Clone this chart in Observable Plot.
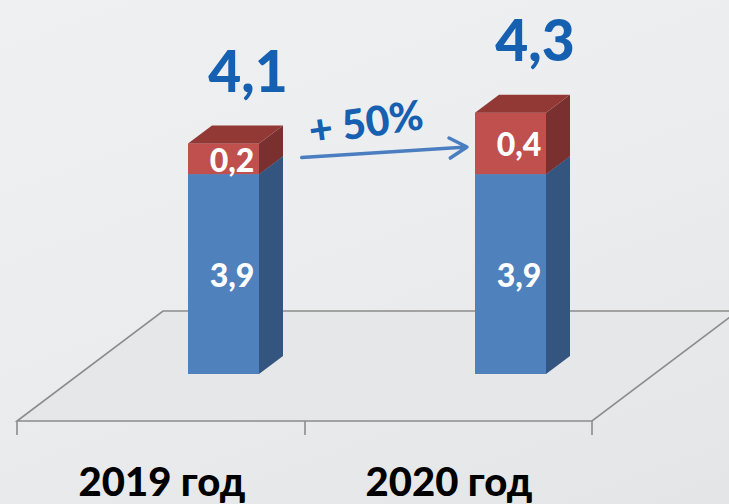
<!DOCTYPE html>
<html><head><meta charset="utf-8">
<script src="https://cdn.jsdelivr.net/npm/d3@7"></script>
<script src="https://cdn.jsdelivr.net/npm/@observablehq/plot@0.6"></script>
<style>
html,body{margin:0;padding:0;background:#ECEDEF;}
#chart svg{display:block;}
</style></head><body><div id="chart"></div>
<script>
// ---- data ----
const years = ["2019 год", "2020 год"];
const baseValues = [3.9, 3.9];     // blue segment
const addValues = [0.2, 0.4];      // red segment
const totals = [4.1, 4.3];
const growthLabel = "+ 50%";
const growthArrow = [{from: "2019 год", to: "2020 год", y1: 3.96, y2: 4.08, labelY: 4.23}];
const yDomain = [2.6, 5];

const fmt = v => v.toFixed(1).replace(".", ",");
const segments = years.flatMap((yr, i) => [
  {year: yr, series: "base", y1: 0, y2: baseValues[i], label: fmt(baseValues[i])},
  {year: yr, series: "add", y1: baseValues[i], y2: baseValues[i] + addValues[i], label: fmt(addValues[i])}
]);
const totalRows = years.map((yr, i) => ({year: yr, total: totals[i], label: fmt(totals[i])}));

const colors = {
  base: {front: "#4F81BD", side: "#34557F", top: "#3F6797"},
  add: {front: "#C0504D", side: "#7A302E", top: "#923835"}
};

// geometry (pixels)
const depthShiftX = 62, floorFront = 47, floorBack = 63, floorSlope = 146 / 110;
const barW = 71, ddx = 24, ddy = -18;

function floorMark(index, scales, values, dims) {
  const {x} = scales;
  const [r0, r1] = x.range();
  const base = dims.height - dims.marginBottom;
  const fy = base + floorFront, by = base - floorBack;
  const sx = (fy - by) * floorSlope;
  const g = d3.create("svg:g");
  g.append("path")
    .attr("d", `M${r0},${fy}L${r1},${fy}L${r1 + sx},${by}L${r0 + sx},${by}Z`)
    .attr("fill", "#E6E7E9").attr("stroke", "#8C8C8C").attr("stroke-width", 1.6);
  const ticks = [r0, ...years.slice(1).map(d => x(d)), r1];
  for (const t of ticks) {
    g.append("line").attr("x1", t).attr("x2", t).attr("y1", fy).attr("y2", fy + 14)
      .attr("stroke", "#8C8C8C").attr("stroke-width", 1.6);
  }
  return g.node();
}

function bars3d(index, scales, values, dims) {
  const {x, y} = scales;
  const bw = x.bandwidth();
  const bottom = dims.height - dims.marginBottom;
  const g = d3.create("svg:g");
  for (const s of segments) {
    const cx = x(s.year) + bw / 2 + depthShiftX;
    const x0 = cx - barW / 2, x1 = cx + barW / 2;
    const yb = Math.min(y(s.y1), bottom), yt = y(s.y2);
    const c = colors[s.series];
    g.append("rect").attr("x", x0).attr("y", yt).attr("width", barW).attr("height", yb - yt).attr("fill", c.front);
    g.append("path").attr("d", `M${x1},${yt}L${x1 + ddx},${yt + ddy}L${x1 + ddx},${yb + ddy}L${x1},${yb}Z`).attr("fill", c.side);
    g.append("path").attr("d", `M${x0},${yt}L${x1},${yt}L${x1 + ddx},${yt + ddy}L${x0 + ddx},${yt + ddy}Z`).attr("fill", c.top);
  }
  return g.node();
}

const chart = Plot.plot({
  width: 729,
  height: 504,
  marginLeft: 17,
  marginRight: 137,
  marginTop: 5,
  marginBottom: 130,
  style: {background: "linear-gradient(160deg, #EFF0F2 0%, #ECEDEF 45%, #E4E5E7 100%)", fontFamily: "Lato, sans-serif"},
  x: {type: "band", domain: years, padding: 0, axis: null},
  y: {domain: yDomain, axis: null},
  marks: [
    floorMark,
    bars3d,
    Plot.text(segments, {x: "year", y: d => (Math.max(d.y1, yDomain[0]) + d.y2) / 2, text: "label",
      fill: "white", fontSize: 32, fontWeight: 900, dx: 70, dy: 2}),
    Plot.text(totalRows, {x: "year", y: "total", text: "label", fill: "#1560B0", fontSize: 57,
      fontWeight: 900, dx: 86, dy: -52, lineAnchor: "bottom"}),
    Plot.arrow(growthArrow, {x1: "from", y1: "y1", x2: "to", y2: "y2", dx: 18, insetStart: 122,
      stroke: "#4A7EC0", strokeWidth: 3.5, headLength: 8.6, headAngle: 60}),
    Plot.text(growthArrow, {x: "to", y: "labelY", text: () => growthLabel, dx: -83, rotate: -8,
      fill: "#1560B0", fontSize: 41, fontWeight: 900}),
    Plot.text(years, {x: d => d, frameAnchor: "bottom", dy: 121, lineAnchor: "bottom",
      text: d => d, fill: "black", fontSize: 40, fontWeight: 900})
  ]
});
document.getElementById("chart").append(chart);
</script>
</body></html>
